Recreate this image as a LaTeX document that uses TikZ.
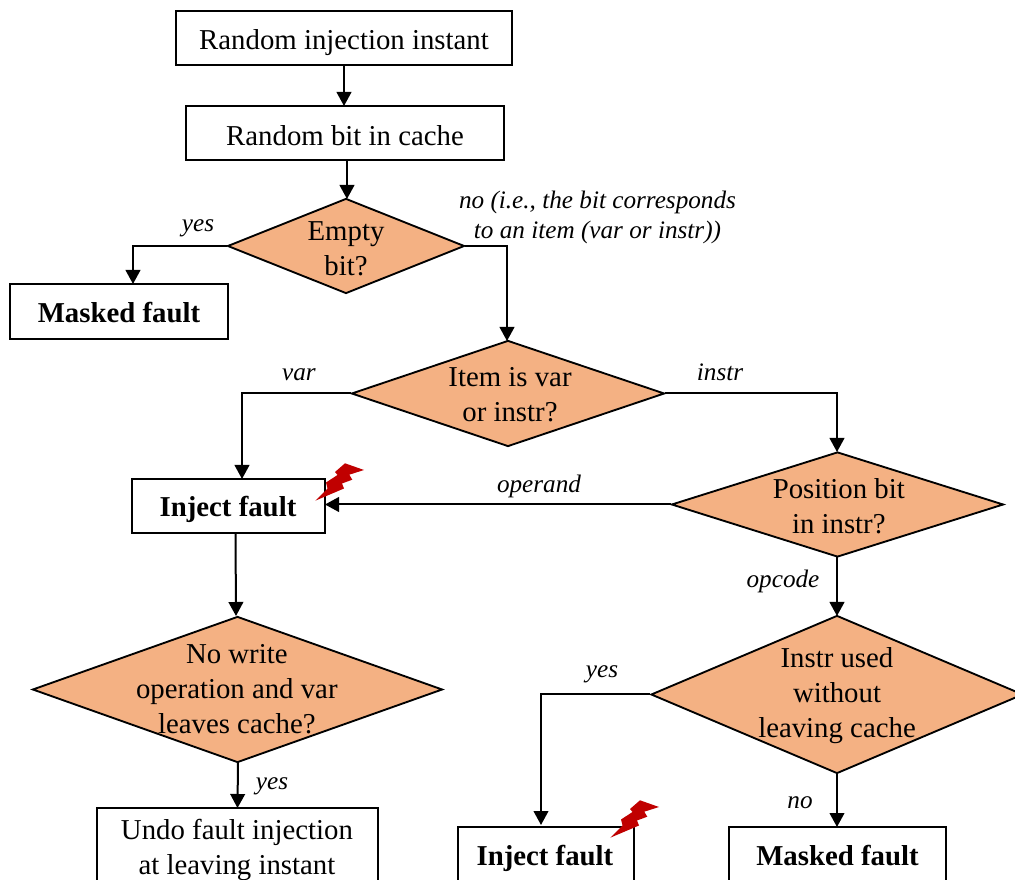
\documentclass[tikz,border=0pt]{standalone}
\usepackage{fontspec}
\setmainfont{Liberation Serif}
\usetikzlibrary{shapes.geometric,arrows.meta}
\definecolor{diafill}{HTML}{F4B183}
\definecolor{boltred}{HTML}{C00000}
\tikzset{
  x=0.75pt,y=-0.75pt,
  every node/.style={font=\fontsize{21.6}{26.25}\selectfont},
  boxn/.style={draw=black,line width=1.5pt,fill=white,inner sep=0pt,anchor=center},
  tlab/.style={align=center,inner sep=0pt,font=\fontsize{21.6}{26.25}\selectfont},
  dia/.style={diamond,draw=black,line width=1.4pt,fill=diafill,inner sep=0pt},
  lab/.style={inner sep=0pt,font=\fontsize{18.9}{22.5}\selectfont\itshape,align=center},
  conn/.style={line width=1.5pt,-{Triangle[length=10.5pt,width=11pt]}},
  bolt/.style={fill=boltred,draw=none},
}
% name, cx, cy, w, h, text shift keys, text
\newcommand{\diam}[7]{%
  \pgfmathsetmacro{\asp}{#4/#5}
  \node[dia,shape aspect=\asp,minimum width=#4*0.75pt,minimum height=#5*0.75pt,
        label={[tlab,#6]center:#7}] (#1) at (#2,#3) {};
}
\newcommand{\bx}[7]{%
  \node[boxn,minimum width=#4*0.75pt,minimum height=#5*0.75pt,
        label={[tlab,#6]center:#7}] (#1) at (#2,#3) {};
}
\begin{document}
\begin{tikzpicture}
\useasboundingbox (0,0) rectangle (1015,880);
\clip (0,0) rectangle (1015,880);
% boxes
\bx{b1}{344}{38}{336}{54}{yshift=-3.3pt}{Random injection instant}
\bx{b2}{345}{133}{318}{54}{yshift=-2pt}{Random bit in cache}
\bx{m1}{119}{311.5}{218}{55}{yshift=-1pt}{\textbf{Masked fault}}
\bx{i1}{228.5}{506}{193}{54}{yshift=-2.7pt,xshift=-0.4pt}{\textbf{Inject fault}}
\bx{u1}{237.5}{856}{281}{96}{yshift=4.3pt,xshift=-0.4pt}{Undo fault injection\\at leaving instant}
\bx{i2}{546}{865.5}{176}{77}{yshift=5.5pt,xshift=-0.8pt}{\textbf{Inject fault}}
\bx{m2}{837.5}{865.5}{217}{77}{yshift=7.5pt}{\textbf{Masked fault}}
% diamonds
\diam{d1}{346}{246}{237}{95}{yshift=-2pt}{Empty\\bit?}
\diam{d2}{508}{393.5}{313}{106}{yshift=-0.8pt,xshift=1.5pt}{Item is var\\or instr?}
\diam{d3}{837.5}{504.5}{332}{105}{yshift=-1.5pt,xshift=1pt}{Position bit\\in instr?}
\diam{d4}{237.5}{689.5}{410}{146}{yshift=0.2pt,xshift=-0.5pt}{No write\\operation and var\\leaves cache?}
\diam{d5}{837}{694.5}{372}{158}{yshift=-1pt}{Instr used\\without\\leaving cache}
% free connector coordinates
\coordinate (c1) at (133,284);
\coordinate (c2) at (507,341);
\coordinate (c3) at (242,479);
\coordinate (c4) at (837,452);
\coordinate (c5) at (541,825);
\coordinate (a1) at (344,65);
\coordinate (a2) at (344,106);
\coordinate (a3) at (347,160);
\coordinate (a4) at (347,199);
\coordinate (a5) at (235.5,533);
\coordinate (a6) at (236,616);
\coordinate (a7) at (238,762);
\coordinate (a8) at (237.5,808);
\coordinate (a9) at (837,557);
\coordinate (a10) at (837,616);
\coordinate (a11) at (837,773);
\coordinate (a12) at (837,827);
\coordinate (a13) at (325,504.5);
% connectors
\draw[conn] (a1) -- (a2);
\draw[conn] (a3) -- (a4);
\draw[conn] (d1.west) -| (c1);
\draw[conn] (d1.east) -| (c2);
\draw[conn] (d2.west) -| (c3);
\draw[conn] (d2.east) -| (c4);
\draw[conn] (d3.west) -- (a13);
\draw[conn] (a5) -- (a6);
\draw[conn] (a7) -- (a8);
\draw[conn] (a9) -- (a10);
\draw[conn] (d5.west) -| (c5);
\draw[conn] (a11) -- (a12);
% labels
\node[lab] (l1) at (198,228.5) {yes};
\node[lab] (l2) at (597.5,217) {no (i.e., the bit corresponds\\to an item (var or instr))};
\node[lab] (l3) at (299,375) {var};
\node[lab] (l4) at (720,372) {instr};
\node[lab] (l5) at (539,486) {operand};
\node[lab] (l6) at (783,581) {opcode};
\node[lab] (l7) at (272,786) {yes};
\node[lab] (l8) at (602,674) {yes};
\node[lab] (l9) at (800,803) {no};
% lightning bolts
\newcommand{\boltpath}{(345,463.3) -- (364,470) -- (349.3,474.7) -- (352.3,479.7) -- (342,483.5) -- (344,488.5) -- (315.3,500.7) -- (327.5,488.5) -- (326,482.5) -- (337.5,475) -- (335,472) -- cycle}
\fill[bolt] \boltpath;
\begin{scope}[xshift=295*0.75pt,yshift=-337*0.75pt]
\fill[bolt] \boltpath;
\end{scope}
\end{tikzpicture}
\end{document}
